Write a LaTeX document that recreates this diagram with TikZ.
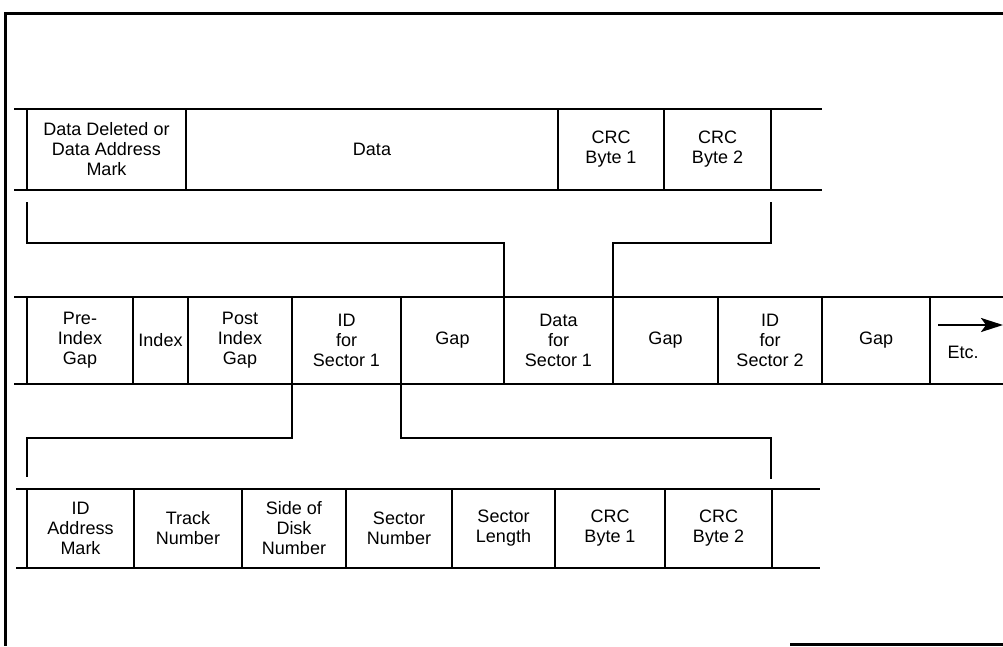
\documentclass[tikz,border=0pt]{standalone}
\usepackage{fontspec}
\setmainfont{Liberation Sans}
\usetikzlibrary{arrows.meta,positioning,calc}

\begin{document}
\begin{tikzpicture}[x=1pt,y=-1pt,
	cell/.style={draw,line width=2.5pt,inner sep=0pt,outer sep=0pt,align=center,
		font=\fontsize{18}{20}\selectfont},
	rail/.style={line width=2.5pt},
	link/.style={line width=2.5pt},
	frame/.style={line width=3pt}]
	\useasboundingbox (0,0) rectangle (1003,646);
	
	% outer frame
	\draw[frame] (1003,13) -- (5,13) -- (5,646);
	\draw[frame] (790,644) -- (1003,644);
	
	% data field (top row)
	\draw[rail] (14,109) -- (822,109);
	\draw[rail] (14,190) -- (822,190);
	\node[cell,anchor=west,minimum width=159,minimum height=81] (dam) at (27,149.5) {Data Deleted or\\Data Address\\Mark};
	\node[cell,right=0pt of dam,minimum width=372,minimum height=81] (data) {Data};
	\node[cell,right=0pt of data,minimum width=106,minimum height=81] (crcA) {CRC\\Byte 1};
	\node[cell,right=0pt of crcA,minimum width=107,minimum height=81] (crcB) {CRC\\Byte 2};
	
	% track layout (middle row)
	\draw[rail] (14,297) -- (1003,297);
	\draw[rail] (14,384) -- (1003,384);
	\node[cell,anchor=west,minimum width=106,minimum height=87] (pre) at (27,340.5) {Pre-\\Index\\Gap};
	\node[cell,right=0pt of pre,minimum width=55,minimum height=87] (idx) {Index};
	\node[cell,right=0pt of idx,minimum width=104,minimum height=87] (post) {Post\\Index\\Gap};
	\node[cell,right=0pt of post,minimum width=109,minimum height=87] (idA) {ID\\for\\Sector 1};
	\node[cell,right=0pt of idA,minimum width=103,minimum height=87] (gapA) {Gap};
	\node[cell,right=0pt of gapA,minimum width=109,minimum height=87] (dataA) {Data\\for\\Sector 1};
	\node[cell,right=0pt of dataA,minimum width=105,minimum height=87] (gapB) {Gap};
	\node[cell,right=0pt of gapB,minimum width=104,minimum height=87] (idB) {ID\\for\\Sector 2};
	\node[cell,right=0pt of idB,minimum width=108,minimum height=87] (gapC) {Gap};
	\node[cell,draw=none] (etc) at (963,352) {Etc.};
	
	% ID field (bottom row)
	\draw[rail] (16,489) -- (820,489);
	\draw[rail] (16,568) -- (820,568);
	\node[cell,anchor=west,minimum width=107,minimum height=79] (idam) at (27,528.5) {ID\\Address\\Mark};
	\node[cell,right=0pt of idam,minimum width=108,minimum height=79] (trk) {Track\\Number};
	\node[cell,right=0pt of trk,minimum width=104,minimum height=79] (side) {Side of\\Disk\\Number};
	\node[cell,right=0pt of side,minimum width=106,minimum height=79] (secn) {Sector\\Number};
	\node[cell,right=0pt of secn,minimum width=103,minimum height=79] (secl) {Sector\\Length};
	\node[cell,right=0pt of secl,minimum width=110,minimum height=79] (crcC) {CRC\\Byte 1};
	\node[cell,right=0pt of crcC,minimum width=107,minimum height=79] (crcD) {CRC\\Byte 2};
	
	% brackets from the data field
	\coordinate (tl) at (27,202);
	\coordinate (tr) at (771,202);
	\draw[link] (tl) -- ++(0,41) -| (dataA.north west);
	\draw[link] (tr) -- ++(0,41) -| (dataA.north east);
	
	% brackets to the ID field
	\coordinate (bl) at (27,477);
	\coordinate (br) at (771,479);
	\draw[link] (idA.south west) -- ++(0,54) -| (bl);
	\draw[link] (idA.south east) -- ++(0,54) -| (br);
	
	% etc. arrow
	\coordinate (etcS) at (938,325);
	\coordinate (etcE) at (1003,325);
	\draw[link,-{Stealth[length=22pt,width=14pt,inset=5pt]}] (etcS) -- (etcE);
\end{tikzpicture}
\end{document}
